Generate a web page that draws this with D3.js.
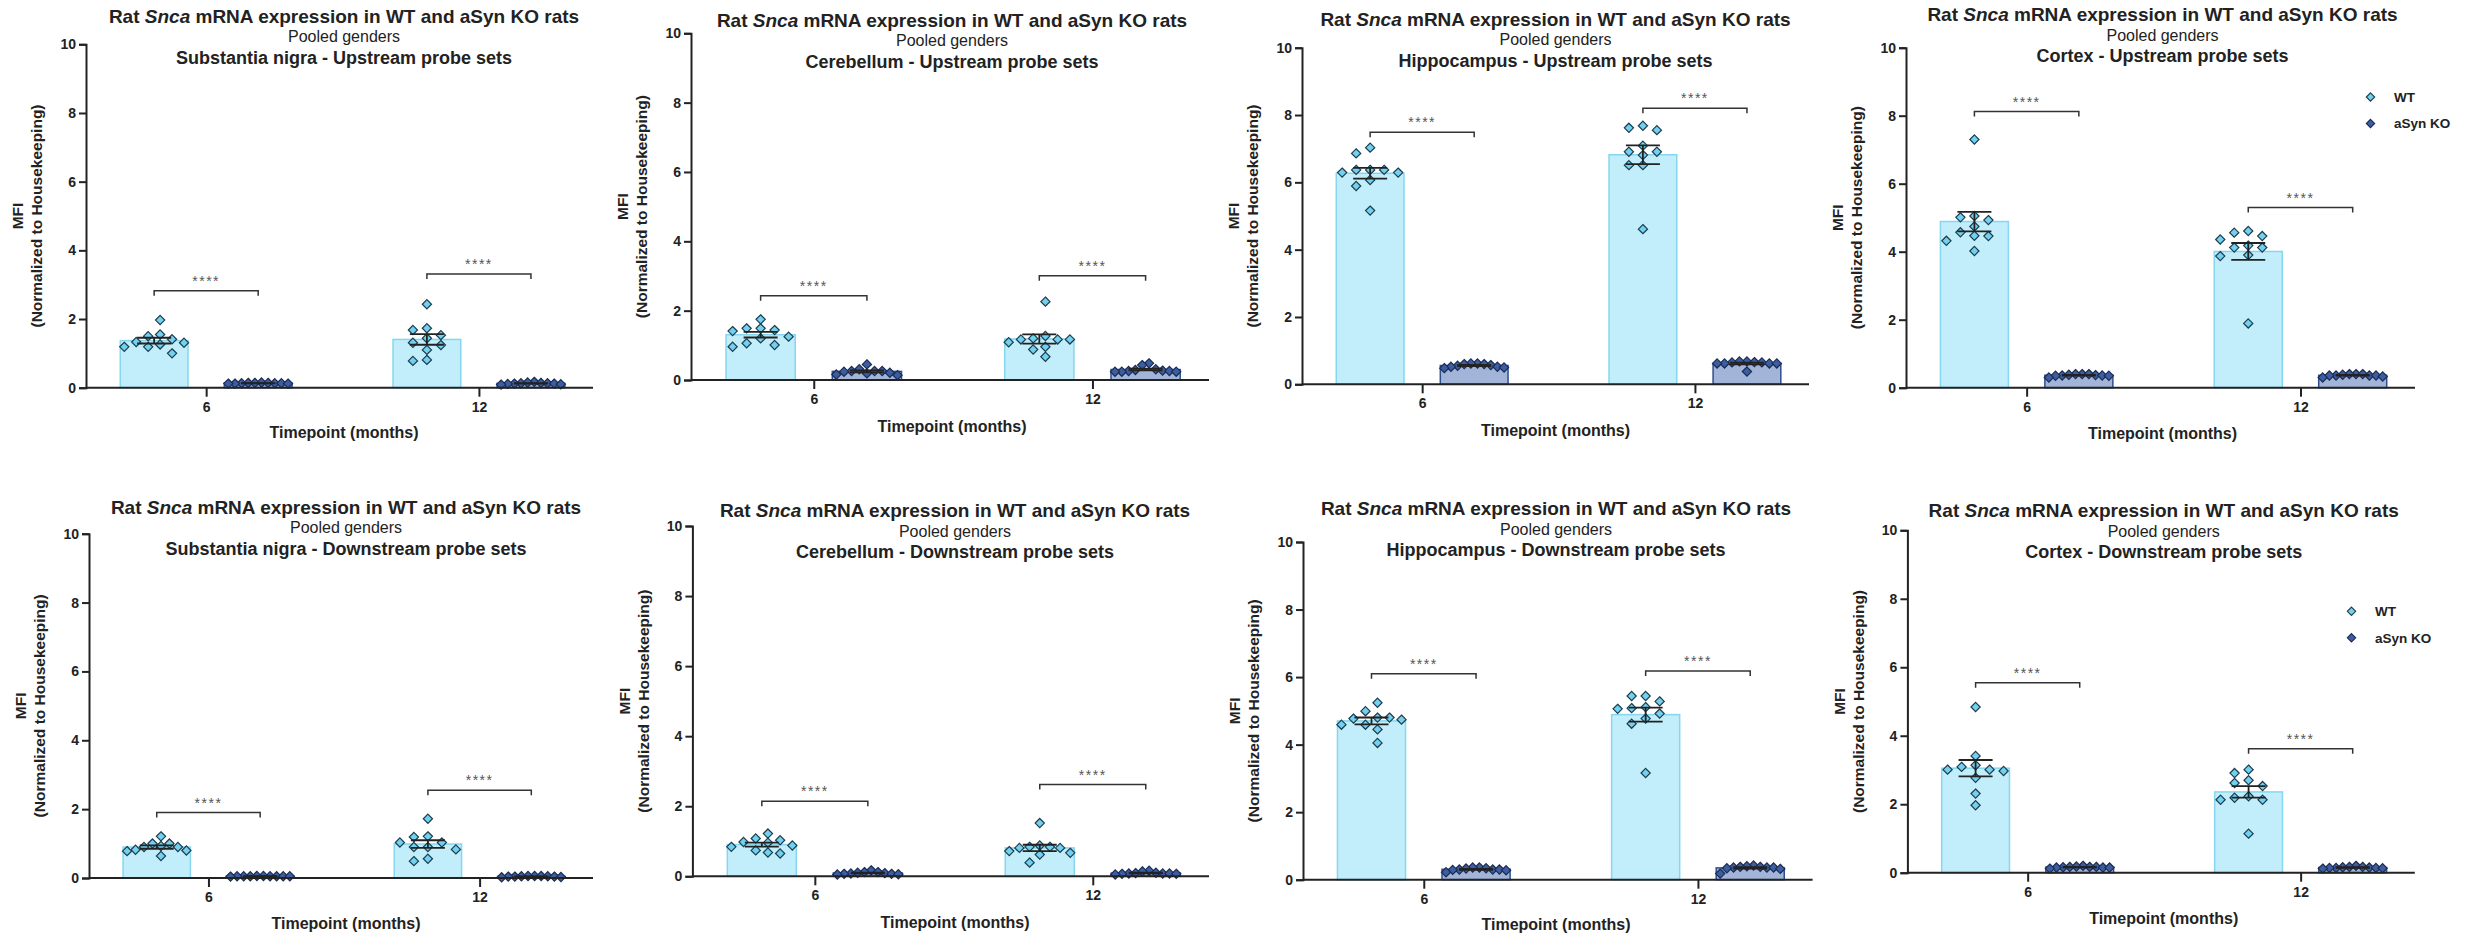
<!DOCTYPE html>
<meta charset="utf-8">
<script src="https://d3js.org/d3.v7.min.js"></script>
<style>
  body { margin: 0; background: #fff; }
  text { font-family: "Liberation Sans", Arial, sans-serif; }
</style>
<div id="my_dataviz"></div>
<script>

// ---- data ----
var timepoints = ["6", "12"];
var groups = ["WT", "aSyn KO"];
var regions = ["Substantia nigra", "Cerebellum", "Hippocampus", "Cortex"];
var probeSets = ["Upstream", "Downstream"];

// each panel: [WT 6m, aSyn KO 6m, WT 12m, aSyn KO 12m]
var snUp = [
  [1.26, 1.00, 1.41, 1.31, 1.97, 1.55, 1.19, 1.50, 1.19, 1.33],
  [0.13, 0.14, 0.12, 0.15, 0.13, 0.14, 0.12, 0.13, 0.14, 0.12],
  [2.43, 1.68, 1.73, 1.53, 1.44, 1.31, 1.24, 1.10, 0.78, 0.81],
  [0.15, 0.17, 0.14, 0.12, 0.10, 0.13, 0.12, 0.11, 0.13, 0.09]
];
var cbUp = [
  [1.49, 1.01, 1.25, 1.75, 1.44, 1.06, 1.49, 1.20, 1.41, 0.96],
  [0.19, 0.31, 0.26, 0.26, 0.14, 0.26, 0.21, 0.24, 0.45, 0.16],
  [2.26, 1.17, 1.20, 1.27, 1.17, 1.09, 1.17, 0.96, 0.88, 0.67],
  [0.24, 0.43, 0.26, 0.31, 0.48, 0.26, 0.29, 0.24, 0.24, 0.27]
];
var hcUp = [
  [7.03, 6.86, 6.37, 6.29, 6.29, 6.37, 6.37, 6.07, 5.89, 5.16],
  [0.52, 0.62, 0.60, 0.62, 0.50, 0.60, 0.52, 0.55, 0.48, 0.57],
  [7.62, 7.68, 7.55, 6.91, 7.09, 6.91, 6.81, 6.51, 6.51, 4.61],
  [0.62, 0.68, 0.65, 0.38, 0.62, 0.62, 0.62, 0.65, 0.68, 0.66]
];
var ctxUp = [
  [7.30, 5.05, 5.01, 4.93, 4.74, 4.57, 4.46, 4.47, 4.32, 4.02],
  [0.36, 0.40, 0.38, 0.40, 0.30, 0.40, 0.37, 0.35, 0.35, 0.36],
  [4.61, 4.56, 4.46, 4.36, 4.18, 4.12, 4.12, 3.90, 3.87, 1.89],
  [0.36, 0.40, 0.40, 0.40, 0.30, 0.38, 0.36, 0.36, 0.36, 0.33]
];
var snDown = [
  [0.93, 0.78, 0.90, 0.80, 1.21, 0.90, 1.00, 0.64, 0.82, 1.00],
  [0.05, 0.05, 0.06, 0.05, 0.05, 0.04, 0.05, 0.05, 0.06, 0.05],
  [1.72, 1.03, 1.19, 1.21, 1.03, 0.90, 0.90, 0.83, 0.49, 0.56],
  [0.05, 0.06, 0.06, 0.06, 0.02, 0.05, 0.04, 0.04, 0.04, 0.03]
];
var cbDown = [
  [1.03, 0.68, 1.22, 0.88, 0.96, 0.74, 1.08, 0.84, 0.98, 0.65],
  [0.07, 0.17, 0.10, 0.12, 0.05, 0.12, 0.08, 0.07, 0.06, 0.09],
  [1.52, 0.84, 0.81, 0.84, 0.88, 0.81, 0.67, 0.72, 0.62, 0.39],
  [0.07, 0.16, 0.10, 0.14, 0.05, 0.09, 0.08, 0.08, 0.07, 0.08]
];
var hcDown = [
  [5.24, 4.99, 4.80, 4.59, 4.59, 4.77, 4.80, 4.74, 4.45, 4.05],
  [0.30, 0.36, 0.33, 0.36, 0.22, 0.34, 0.30, 0.28, 0.30, 0.29],
  [5.44, 5.44, 5.28, 5.11, 5.08, 5.06, 4.92, 4.77, 4.62, 3.16],
  [0.38, 0.40, 0.38, 0.42, 0.18, 0.36, 0.36, 0.34, 0.36, 0.32]
];
var ctxDown = [
  [4.84, 3.41, 3.14, 3.09, 2.97, 3.01, 3.01, 2.77, 2.31, 1.97],
  [0.15, 0.20, 0.18, 0.17, 0.12, 0.17, 0.17, 0.15, 0.15, 0.16],
  [3.01, 2.91, 2.70, 2.62, 2.53, 2.23, 2.13, 2.13, 2.19, 1.14],
  [0.14, 0.20, 0.17, 0.17, 0.12, 0.16, 0.15, 0.14, 0.14, 0.13]
];
var panelData = [snUp, cbUp, hcUp, ctxUp, snDown, cbDown, hcDown, ctxDown];

// height of the significance brackets (y units) at 6 and 12 months
var bracketHeights = [[2.82, 3.31], [2.43, 3.01], [7.49, 8.20], [8.12, 5.30],
                      [1.90, 2.55], [2.14, 2.62], [6.10, 6.18], [5.55, 3.62]];
var signif = "****";

// ---- layout of the 8 panels (pixels) ----
var frames = [
  {left: 86,    right: 593,    top: 44.3,  bottom: 387.7, titleX: 344,    titleY: 16,    xTitleY: 432},
  {left: 691,   right: 1209,   top: 33.3,  bottom: 380,   titleX: 952,    titleY: 20,    xTitleY: 426.7},
  {left: 1302,  right: 1809,   top: 47.7,  bottom: 384.3, titleX: 1555.5, titleY: 19,    xTitleY: 430},
  {left: 1906,  right: 2415,   top: 47.7,  bottom: 387.7, titleX: 2162.5, titleY: 14.3,  xTitleY: 433.3, legend: [2370.5, 97]},
  {left: 89,    right: 593,    top: 533.7, bottom: 878,   titleX: 346,    titleY: 507,   xTitleY: 923.7},
  {left: 692.4, right: 1209,   top: 526,   bottom: 876.3, titleX: 955,    titleY: 510.3, xTitleY: 922.7},
  {left: 1303,  right: 1812.6, top: 542,   bottom: 879.7, titleX: 1556,   titleY: 508.7, xTitleY: 924.3},
  {left: 1907.4,right: 2414.8, top: 530.3, bottom: 872.7, titleX: 2163.7, titleY: 510.3, xTitleY: 918.7, legend: [2351.5, 611.3]}
];

var barFill = {"WT": "#c2eefc", "aSyn KO": "#a2b4d8"};
var barStroke = {"WT": "#86d6ef", "aSyn KO": "#2f4f8c"};
var dotFill = {"WT": "#72d0f0", "aSyn KO": "#3b5ea3"};
var dotStroke = {"WT": "#1d3c4a", "aSyn KO": "#1c2b52"};

var svg = d3.select("#my_dataviz")
  .append("svg")
    .attr("width", 2481)
    .attr("height", 934);

function diamond(r) {
  return "M0," + (-r) + "L" + r + ",0L0," + r + "L" + (-r) + ",0Z";
}

// simple beeswarm: spread points sideways when they collide
function swarm(vals, y, step, maxHalf) {
  var pts = vals.map(function(v){ return {v: v, py: y(v)}; })
    .sort(function(a, b){ return a.py - b.py; });
  var placed = [];
  pts.forEach(function(p) {
    for (var k = 0; k < 40; k++) {
      var off = k === 0 ? 0 : (k % 2 ? -Math.ceil(k/2) : Math.ceil(k/2)) * step;
      var hit = placed.some(function(q){
        return Math.abs(q.py - p.py) < 9 && Math.abs(q.off - off) < step * 0.95;
      });
      if (!hit) { p.off = off; break; }
    }
    placed.push(p);
  });
  var lo = d3.min(placed, function(d){ return d.off; });
  var hi = d3.max(placed, function(d){ return d.off; });
  if (hi - lo > 2 * maxHalf) {
    var mid = (hi + lo) / 2, f = 2 * maxHalf / (hi - lo);
    placed.forEach(function(p){ p.off = (p.off - mid) * f; });
  }
  return placed;
}

frames.forEach(function(fr, pi) {
  var data = panelData[pi];
  var region = regions[pi % 4];
  var probe = probeSets[Math.floor(pi / 4)];
  var L = fr.right - fr.left;
  var g = svg.append("g").attr("transform", "translate(" + fr.left + ",0)");

  var y = d3.scaleLinear().domain([0, 10]).range([fr.bottom, fr.top]);
  var x = d3.scalePoint().domain(timepoints).range([L * 0.237, L * 0.775]);
  var sub = d3.scaleBand().domain(groups).range([-0.1694 * L, 0.1694 * L]).paddingInner(0.349);
  var bw = sub.bandwidth();

  // cells: one per timepoint x group
  var cells = [];
  timepoints.forEach(function(t, ti) {
    groups.forEach(function(gr, gi) {
      var vals = data[ti * 2 + gi];
      var m = d3.mean(vals);
      var sem = d3.deviation(vals) / Math.sqrt(vals.length);
      cells.push({t: t, g: gr, vals: vals, mean: m, sem: sem, cx: x(t) + sub(gr) + bw / 2});
    });
  });

  // bars
  g.selectAll(".bar")
    .data(cells)
    .enter()
    .append("rect")
      .attr("x", function(d){ return d.cx - bw / 2; })
      .attr("y", function(d){ return y(d.mean); })
      .attr("width", bw)
      .attr("height", function(d){ return y(0) - y(d.mean); })
      .style("fill", function(d){ return barFill[d.g]; })
      .style("stroke", function(d){ return barStroke[d.g]; })
      .style("stroke-width", 1.5);

  // points
  cells.forEach(function(c) {
    var pts = swarm(c.vals, y, 14, bw / 2 - 4);
    g.selectAll(null)
      .data(pts)
      .enter()
      .append("path")
        .attr("d", diamond(4.6))
        .attr("transform", function(d){ return "translate(" + (c.cx + d.off) + "," + d.py + ")"; })
        .style("fill", dotFill[c.g])
        .style("stroke", dotStroke[c.g])
        .style("stroke-width", 1.2);
  });

  // error bars (mean +/- SEM)
  cells.forEach(function(c) {
    var hw = 17;
    var eb = g.append("g").style("stroke", "#222").style("stroke-width", 1.8);
    eb.append("line").attr("x1", c.cx).attr("x2", c.cx)
      .attr("y1", y(c.mean - c.sem)).attr("y2", y(c.mean + c.sem));
    [c.mean - c.sem, c.mean + c.sem].forEach(function(v) {
      eb.append("line").attr("x1", c.cx - hw).attr("x2", c.cx + hw)
        .attr("y1", y(v)).attr("y2", y(v));
    });
  });

  // significance brackets
  timepoints.forEach(function(t, ti) {
    var x1 = x(t) + sub(groups[0]) + bw / 2;
    var x2 = x(t) + sub(groups[1]) + bw / 2;
    var yb = y(bracketHeights[pi][ti]);
    g.append("path")
      .attr("d", "M" + x1 + "," + (yb + 5) + "V" + yb + "H" + x2 + "V" + (yb + 5))
      .style("fill", "none")
      .style("stroke", "#333")
      .style("stroke-width", 1.5);
    g.append("text")
      .attr("x", (x1 + x2) / 2)
      .attr("y", yb - 5)
      .attr("text-anchor", "middle")
      .style("font-size", "14px")
      .style("letter-spacing", "1.5px")
      .style("fill", "#555")
      .text(signif);
  });

  // axes
  var yAxis = g.append("g")
    .call(d3.axisLeft(y).tickValues([0, 2, 4, 6, 8, 10]).tickSize(7).tickPadding(3));
  var xAxis = g.append("g")
    .attr("transform", "translate(0," + fr.bottom + ")")
    .call(d3.axisBottom(x).tickSize(9).tickPadding(5));
  xAxis.select(".domain").attr("d", "M0,0H" + L);
  [yAxis, xAxis].forEach(function(a) {
    a.select(".domain").style("stroke", "#222").style("stroke-width", 2);
    a.selectAll(".tick line").style("stroke", "#222").style("stroke-width", 2);
    a.selectAll(".tick text")
      .style("font-family", "'Liberation Sans', Arial, sans-serif")
      .style("font-size", "14px")
      .style("font-weight", "bold")
      .style("fill", "#222");
  });

  // axis titles
  g.append("text")
    .attr("x", fr.titleX - fr.left)
    .attr("y", fr.xTitleY)
    .attr("dy", "0.35em")
    .attr("text-anchor", "middle")
    .style("font-size", "16px")
    .style("font-weight", "bold")
    .style("fill", "#222")
    .text("Timepoint (months)");

  var ymid = (fr.top + fr.bottom) / 2;
  var yl = g.append("text")
    .attr("transform", "translate(-58," + ymid + ")rotate(-90)")
    .attr("text-anchor", "middle")
    .style("font-size", "15.5px")
    .style("font-weight", "bold")
    .style("fill", "#222");
  yl.append("tspan").attr("x", 0).attr("y", -10).attr("dy", "0.35em").text("MFI");
  yl.append("tspan").attr("x", 0).attr("y", 9).attr("dy", "0.35em").text("(Normalized to Housekeeping)");

  // title (3 lines)
  var tx = fr.titleX - fr.left;
  var t1 = g.append("text")
    .attr("x", tx).attr("y", fr.titleY).attr("dy", "0.35em")
    .attr("text-anchor", "middle")
    .style("font-size", "19px").style("font-weight", "bold").style("fill", "#222");
  t1.append("tspan").text("Rat ");
  t1.append("tspan").style("font-style", "italic").text("Snca");
  t1.append("tspan").text(" mRNA expression in WT and aSyn KO rats");
  g.append("text")
    .attr("x", tx).attr("y", fr.titleY + 20.6).attr("dy", "0.35em")
    .attr("text-anchor", "middle")
    .style("font-size", "16px").style("fill", "#222")
    .text("Pooled genders");
  g.append("text")
    .attr("x", tx).attr("y", fr.titleY + 41.2).attr("dy", "0.35em")
    .attr("text-anchor", "middle")
    .style("font-size", "18px").style("font-weight", "bold").style("fill", "#222")
    .text(region + " - " + probe + " probe sets");

  // legend on the cortex panels
  if (fr.legend) {
    var lg = svg.append("g").attr("transform", "translate(" + fr.legend[0] + "," + fr.legend[1] + ")");
    groups.forEach(function(gr, i) {
      lg.append("path")
        .attr("d", diamond(4.2))
        .attr("transform", "translate(0," + (i * 26.5) + ")")
        .style("fill", dotFill[gr])
        .style("stroke", dotStroke[gr])
        .style("stroke-width", 1.1);
      lg.append("text")
        .attr("x", 23.5).attr("y", i * 26.5).attr("dy", "0.35em")
        .style("font-size", "13.5px").style("font-weight", "bold").style("fill", "#222")
        .text(gr);
    });
  }
});

</script>
